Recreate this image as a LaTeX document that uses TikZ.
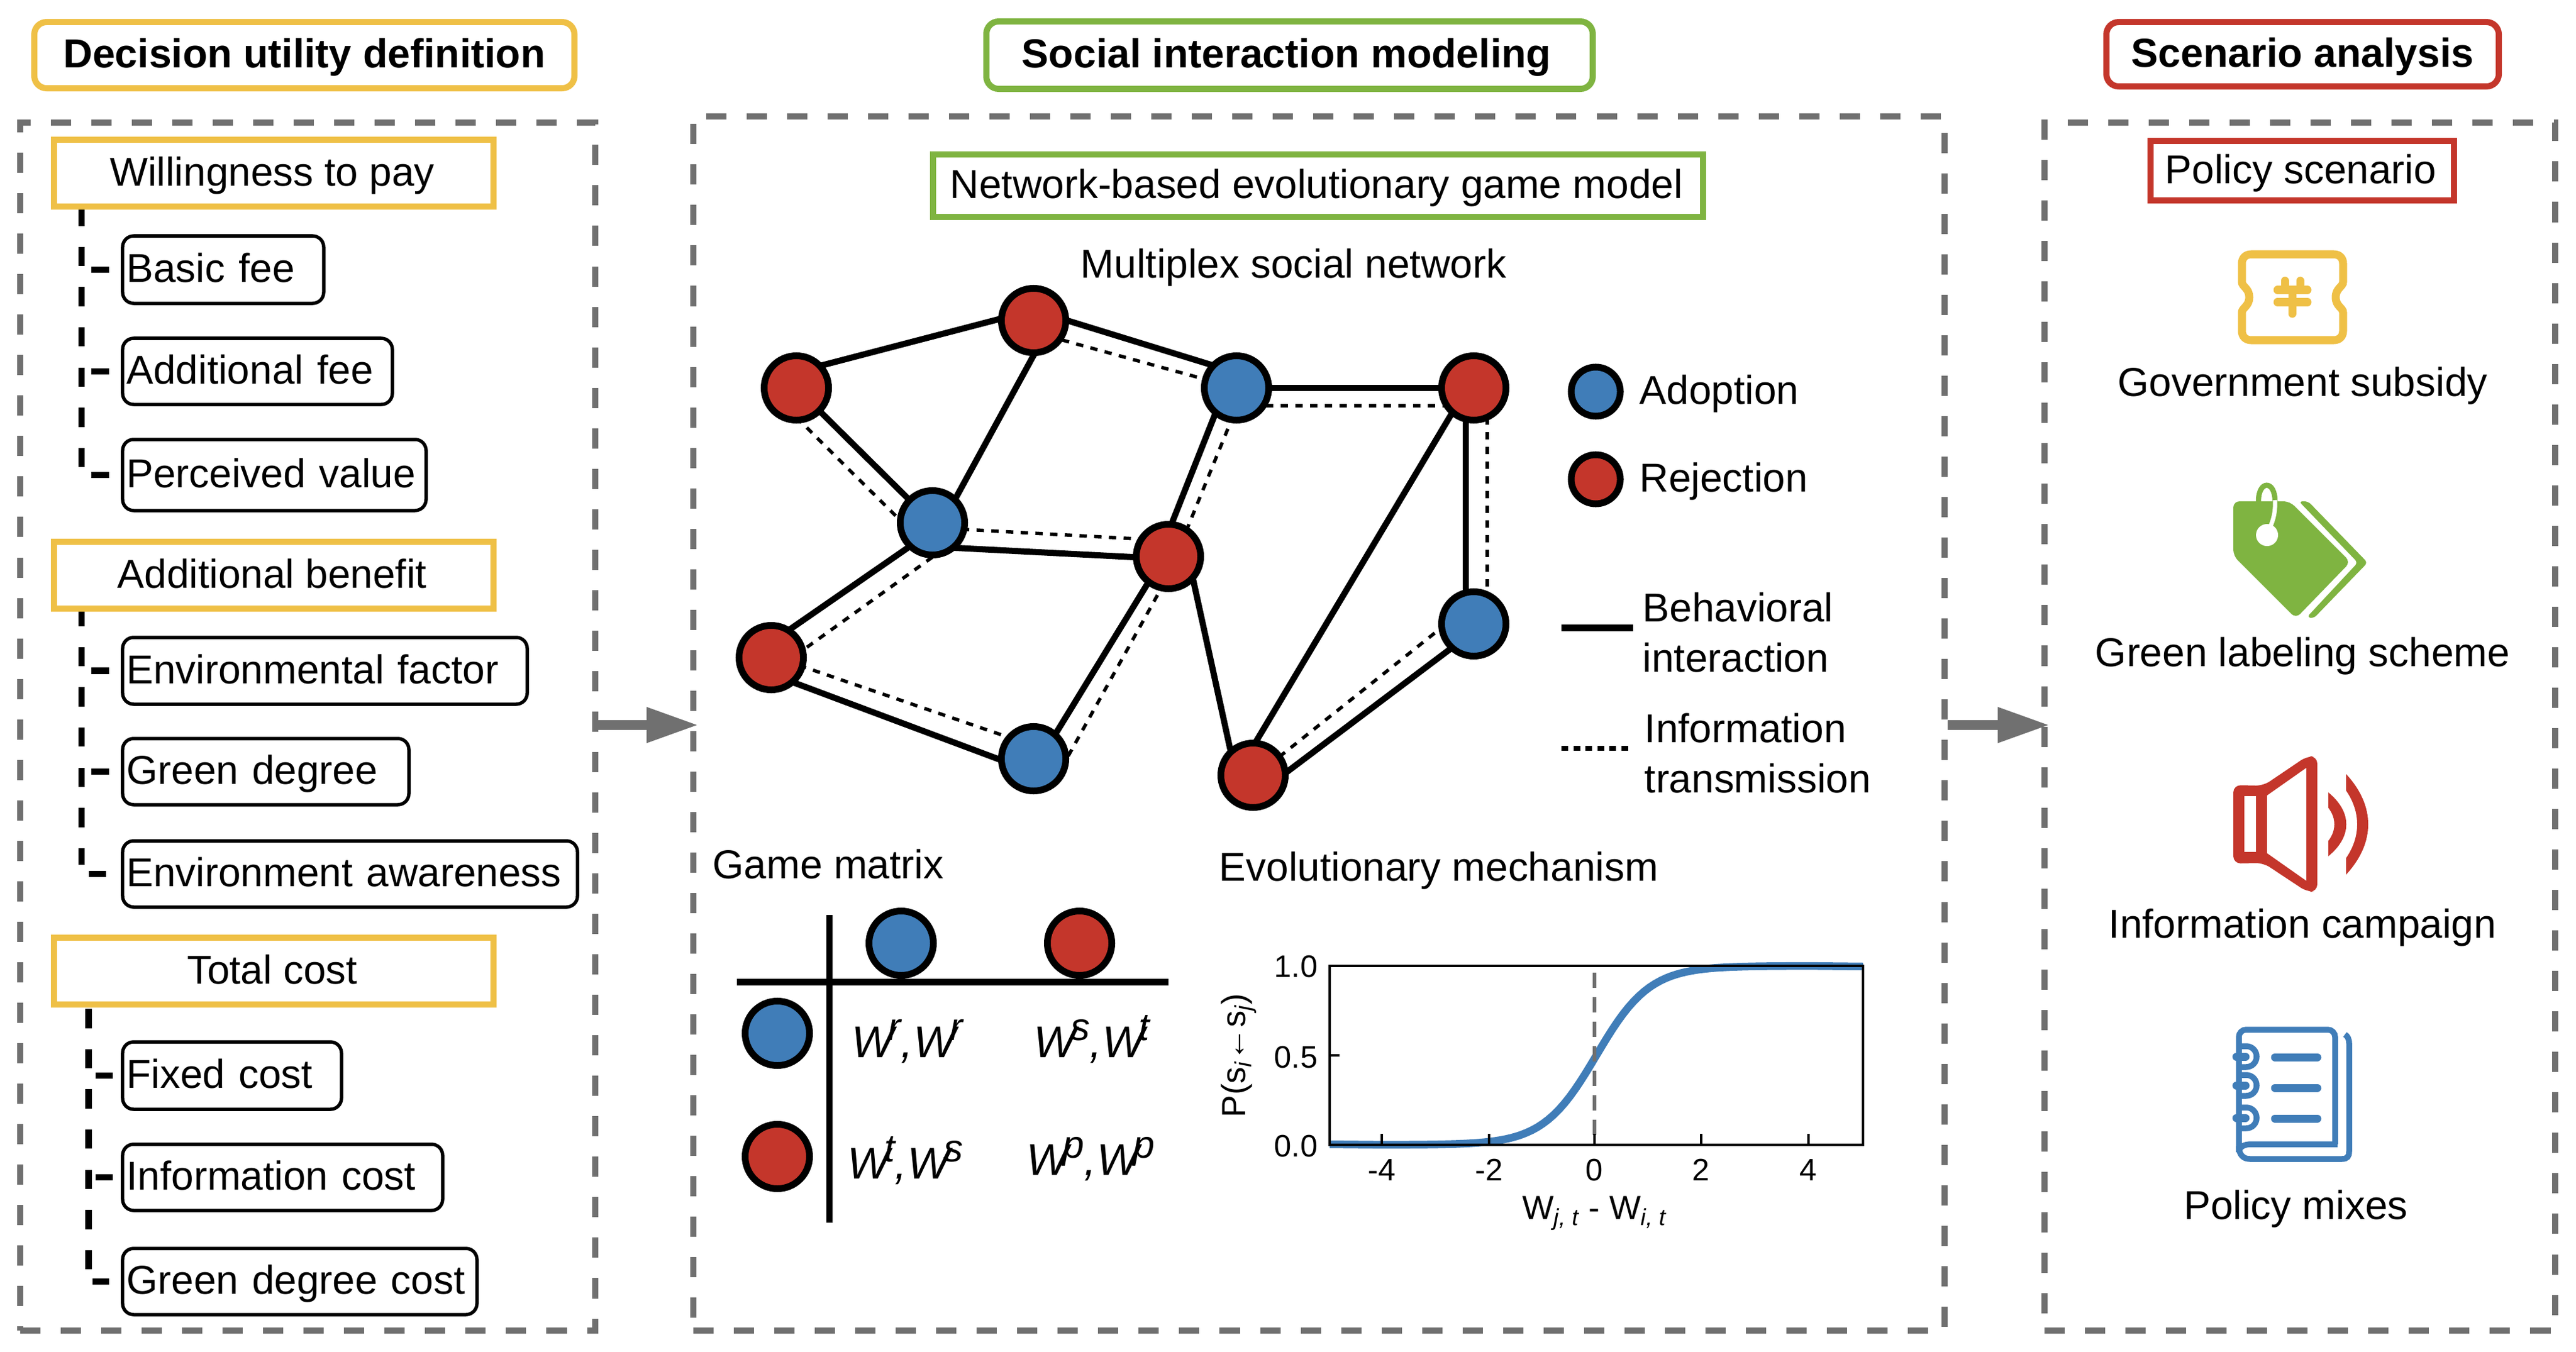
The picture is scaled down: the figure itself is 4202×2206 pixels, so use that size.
\documentclass[tikz,border=0pt]{standalone}
\usepackage{fontspec}
\setmainfont{Liberation Sans}
\usetikzlibrary{arrows.meta,backgrounds,calc}
\definecolor{cblue}{RGB}{64,125,184}
\definecolor{cred}{RGB}{196,54,43}
\definecolor{cyellow}{RGB}{239,192,70}
\definecolor{cgreen}{RGB}{127,180,65}
\definecolor{cgray}{RGB}{112,112,112}
\newcommand{\boxnode}[7]{%
 \pgfmathsetmacro\bw{(#5-#3)*0.01}\pgfmathsetmacro\bh{(#6-#4)*0.01}%
 \pgfmathsetmacro\bx{(#3+#5)/2}\pgfmathsetmacro\by{(#4+#6)/2}%
 \node[#1,minimum width=\bw cm,minimum height=\bh cm] (#2) at (\bx,\by) {#7};}
\newcommand{\payW}[1]{W\kern-.09cm\raisebox{.28cm}{\fontsize{18}{20}\selectfont #1}}
\newcommand{\bump}[1]{%
 \draw[nbline] (3652,#1-17) -- (3664,#1-17) .. controls (3674,#1-17) and (3681,#1-9) .. (3681,#1) .. controls (3681,#1+9) and (3674,#1+17) .. (3664,#1+17) -- (3652,#1+17);
 \draw[white,line width=.19cm] (3660,#1) -- (3671,#1);
 \draw[cblue,line width=.13cm,line cap=round] (3648,#1) -- (3663,#1);}
\tikzset{
 txt/.style={font=\fontsize{18.7}{22}\selectfont,inner sep=0pt,text height=.475cm,text depth=.06cm},
 titlebox/.style={txt,font=\fontsize{18.8}{22}\selectfont\bfseries,draw=#1,line width=.1cm,rounded corners=.2cm,fill=white},
 headbox/.style={txt,draw=#1,line width=.1cm,fill=white},
 subbox/.style={txt,draw=black,line width=.055cm,rounded corners=.18cm,inner xsep=.065cm,text width=\bw cm-.13cm,align=left},
 panel/.style={draw=cgray,line width=.105cm,dash pattern=on .33cm off .33cm},
 trunk/.style={black,line width=.105cm,dash pattern=on .315cm off .341cm},
 tick/.style={black,line width=.105cm},
 flow/.style={cgray,line width=.16cm,shorten >=-.14cm,-{Triangle[length=.85cm,width=.54cm]}},
 agent/.style={circle,draw=black,line width=.11cm,minimum size=1.05cm,inner sep=0pt,fill=#1},
 legagent/.style={circle,draw=black,line width=.11cm,minimum size=.8cm,inner sep=0pt,fill=#1},
 beh/.style={black,line width=.1cm},
 inf/.style={black,line width=.055cm,dash pattern=on .12cm off .12cm},
 lbl/.style={txt},
 pay/.style={font=\fontsize{20.6}{24}\selectfont\itshape,inner sep=0pt,anchor=base},
 ticklbl/.style={font=\fontsize{14.4}{16}\selectfont,inner sep=0pt},
 nbline/.style={cblue,line width=.095cm},
}
\begin{document}
\begin{tikzpicture}[x=0.01cm,y=-0.01cm]
\useasboundingbox (0,0) rectangle (4202,2206);
% panels
\boxnode{panel}{p1}{33}{200}{971}{2171}{}
\boxnode{panel}{p2}{1131}{190}{3172}{2171}{}
\boxnode{panel}{p3}{3335}{200}{4168}{2171}{}
\coordinate (flowy) at (0,1183);
\draw[flow] (p1.east |- flowy) -- (p2.west |- flowy);
\draw[flow] (p2.east |- flowy) -- (p3.west |- flowy);
% titles
\boxnode{titlebox=cyellow}{t1}{56}{36}{937}{144}{Decision utility definition}
\boxnode{titlebox=cgreen}{t2}{1609}{35}{2598}{145}{Social interaction modeling\kern.1cm}
\boxnode{titlebox=cred}{t3}{3436}{36}{4076}{141}{Scenario analysis}
% left column
\boxnode{headbox=cyellow}{wtp}{88}{228}{805}{337}{Willingness to pay\kern.05cm}
\boxnode{headbox=cyellow}{ab}{88}{884}{805}{993}{Additional benefit\kern.05cm}
\boxnode{headbox=cyellow}{tc}{88}{1530}{805}{1639}{Total cost\kern.05cm}
\boxnode{subbox}{bf}{200}{385}{528}{495}{Basic fee}
\boxnode{subbox}{af}{200}{552}{640}{660}{Additional fee}
\boxnode{subbox}{pv}{200}{717}{695}{833}{Perceived value}
\boxnode{subbox}{ef}{200}{1040}{860}{1149}{Environmental factor}
\boxnode{subbox}{gd}{200}{1205}{667}{1313}{Green degree}
\boxnode{subbox}{ea}{200}{1372}{942}{1480}{Environment awareness}
\boxnode{subbox}{fc}{200}{1700}{557}{1810}{Fixed cost}
\boxnode{subbox}{ic}{200}{1867}{722}{1975}{Information cost}
\boxnode{subbox}{gc}{200}{2037}{778}{2145}{Green degree cost}
\coordinate (r1) at (133,337);\coordinate (r1e) at (133,765);
\coordinate (r2) at (133,990);\coordinate (r2e) at (133,1411);
\coordinate (r3) at (144.5,1646);\coordinate (r3e) at (144.5,2075);
\begin{scope}[on background layer]
\draw[trunk] (r1) -- (r1e);\draw[trunk] (r2) -- (r2e);\draw[trunk] (r3) -- (r3e);
\end{scope}
\draw[tick,shorten <=.19cm,shorten >=.16cm] (bf.west) -- (bf.west -| r1);
\draw[tick,shorten <=.19cm,shorten >=.16cm] (af.west) -- (af.west -| r1);
\draw[tick,shorten <=.19cm,shorten >=.16cm] (pv.west) -- (pv.west -| r1);
\draw[tick,shorten <=.19cm,shorten >=.16cm] (ef.west) -- (ef.west -| r2);
\draw[tick,shorten <=.19cm,shorten >=.16cm] (gd.west) -- (gd.west -| r2);
\draw[tick,shorten <=.24cm,shorten >=.12cm] (ea.west) -- (ea.west -| r2);
\draw[tick,shorten <=.13cm,shorten >=.11cm] (fc.west) -- (fc.west -| r3);
\draw[tick,shorten <=.13cm,shorten >=.11cm] (ic.west) -- (ic.west -| r3);
\draw[tick,shorten <=.19cm,shorten >=.06cm] (gc.west) -- (gc.west -| r3);
% middle
\boxnode{headbox=cgreen}{ng}{1522}{252}{2778}{354}{Network-based evolutionary game model\kern.05cm}
\node[lbl] (ms) at (2110,433) {Multiplex social network};
\node[agent=cred] (A) at (1299,633) {};
\node[agent=cred] (B) at (1686,523) {};
\node[agent=cblue] (C) at (2017,633) {};
\node[agent=cred] (D) at (2404,633) {};
\node[agent=cblue] (E) at (1521,853) {};
\node[agent=cred] (F) at (1906,908) {};
\node[agent=cred] (G) at (1258,1073) {};
\node[agent=cblue] (H) at (1686,1238) {};
\node[agent=cred] (I) at (2044,1265) {};
\node[agent=cblue] (J) at (2404,1018) {};
\begin{scope}[on background layer]
\draw[beh] ([shift={(0,-26)}]A.center) -- ([shift={(0,-17)}]B.center);
\draw[beh] ([shift={(31,0)}]B.center) -- ([shift={(16,0)}]E.center);
\draw[beh] ([shift={(0,-17)}]B.center) -- ([shift={(0,-25)}]C.center);
\draw[beh] (A.center) -- (E.center);
\draw[beh] (C.center) -- (D.center);
\draw[beh] ([shift={(-18,0)}]C.center) -- ([shift={(-16,0)}]F.center);
\draw[beh] ([shift={(0,39)}]E.center) -- ([shift={(0,4)}]F.center);
\draw[beh] ([shift={(0,13)}]E.center) -- ([shift={(0,-25)}]G.center);
\draw[beh] ([shift={(0,27)}]G.center) -- ([shift={(0,22)}]H.center);
\draw[beh] ([shift={(-7,0)}]F.center) -- ([shift={(11,0)}]H.center);
\draw[beh] ([shift={(32,0)}]F.center) -- ([shift={(-28,0)}]I.center);
\draw[beh] ([shift={(-11,0)}]D.center) -- ([shift={(-28,0)}]I.center);
\draw[beh] ([shift={(-13,0)}]D.center) -- ([shift={(-13,0)}]J.center);
\draw[beh] ([shift={(16,0)}]J.center) -- ([shift={(48,0)}]I.center);
\draw[inf] ([shift={(0,19)}]B.center) -- (C.center);
\draw[inf] ([shift={(0,29)}]C.center) -- ([shift={(0,29)}]D.center);
\draw[inf] ([shift={(0,48)}]A.center) -- ([shift={(0,48)}]E.center);
\draw[inf] ([shift={(0,8)}]E.center) -- ([shift={(0,-26)}]F.center);
\draw[inf] ([shift={(13,0)}]C.center) -- ([shift={(12,0)}]F.center);
\draw[inf] ([shift={(0,56)}]E.center) -- ([shift={(0,25)}]G.center);
\draw[inf] ([shift={(0,-3)}]G.center) -- ([shift={(0,-21)}]H.center);
\draw[inf] ([shift={(17,0)}]F.center) -- ([shift={(54,0)}]H.center);
\draw[inf] ([shift={(22,0)}]D.center) -- ([shift={(22,0)}]J.center);
\draw[inf] ([shift={(-45,0)}]J.center) -- ([shift={(5,0)}]I.center);
\end{scope}
% legend
\node[legagent=cblue] (la) at (2603,639) {};
\node[legagent=cred] (lr) at (2603,782) {};
\node[lbl,anchor=west] at (2674,639) {Adoption};
\node[lbl,anchor=west] at (2674,782) {Rejection};
\node[lbl,anchor=west] at (2679,994) {Behavioral};
\node[lbl,anchor=west] at (2679,1076) {interaction};
\node[lbl,anchor=west] at (2682,1191) {Information};
\node[lbl,anchor=west] at (2682,1273) {transmission};
\coordinate (lb1) at (2547,1024);\coordinate (lb2) at (2664,1024);
\coordinate (li1) at (2547,1221);\coordinate (li2) at (2664,1221);
\draw[black,line width=.11cm] (lb1) -- (lb2);
\draw[black,line width=.08cm,dash pattern=on .11cm off .085cm] (li1) -- (li2);
% game matrix
\node[lbl,anchor=west] at (1162,1413) {Game matrix};
\node[lbl,anchor=west] at (1988,1417) {Evolutionary mechanism};
\coordinate (v1) at (1353,1493);\coordinate (v2) at (1353,1995);
\coordinate (h1) at (1202,1602);\coordinate (h2) at (1906,1602);
\draw[black,line width=.1cm] (v1) -- (v2);
\draw[black,line width=.11cm] (h1) -- (h2);
\node[agent=cblue] (m1) at (1470,1539) {};
\node[agent=cred] (m2) at (1761,1539) {};
\node[agent=cblue] (m3) at (1268,1686) {};
\node[agent=cred] (m4) at (1268,1887) {};
\node[pay] at (1480,1725) {\payW{r},\payW{r}};
\node[pay] at (1781,1725) {\payW{s},\payW{t}};
\node[pay] at (1477,1923) {\payW{t},\payW{s}};
\node[pay] at (1779,1917) {\payW{p},\payW{p}};
% plot
\draw[cblue,line width=.125cm] (2169,1867) -- plot[domain=-4:4,samples=81] ({2604+87*\x},{1868-292/(1+exp(-2*\x))}) -- (3039,1577);
\draw[cgray,line width=.06cm,dash pattern=on .25cm off .15cm] (2601,1587) -- (2601,1868);
\draw[black,line width=.045cm] (2169,1576) rectangle (3039,1868);
\foreach \tx/\tl in {2254/-4,2429/-2,2601/0,2775/2,2950/4}{
 \draw[black,line width=.035cm] (\tx,1868) -- (\tx,1850);
 \node[ticklbl] at (\tx,1909) {\tl};}
\draw[black,line width=.035cm] (2169,1722) -- (2185,1722);
\node[ticklbl] at (2114,1577) {1.0};
\node[ticklbl] at (2114,1725) {0.5};
\node[ticklbl] at (2114,1870) {0.0};
\node[ticklbl,font=\fontsize{15.5}{18}\selectfont] at (2601,1980) {W\textsubscript{\itshape j, t} - W\textsubscript{\itshape i, t}};
\node[ticklbl,font=\fontsize{15.5}{18}\selectfont,rotate=90] at (2021,1722) {P(s\textsubscript{\itshape i}←s\textsubscript{\itshape j})};
% right column
\boxnode{headbox=cred}{ps}{3508}{230}{4003}{327}{Policy scenario\kern.05cm}
\node[lbl] (g1) at (3756,626) {Government subsidy};
\node[lbl] (g2) at (3756,1067) {Green labeling scheme};
\node[lbl] (g3) at (3756,1510) {Information campaign};
\node[lbl] (g4) at (3745,1969) {Policy mixes};
% ticket icon
\draw[cyellow,line width=.13cm] (3672,415) -- (3807,415) .. controls (3816,415) and (3822,421) .. (3822,430) -- (3822,460) .. controls (3822,468) and (3810,470) .. (3810,485) .. controls (3810,500) and (3822,502) .. (3822,510) -- (3822,540) .. controls (3822,549) and (3816,555) .. (3807,555) -- (3672,555) .. controls (3663,555) and (3657,549) .. (3657,540) -- (3657,510) .. controls (3657,502) and (3669,500) .. (3669,485) .. controls (3669,470) and (3657,468) .. (3657,460) -- (3657,430) .. controls (3657,421) and (3663,415) .. (3672,415) -- cycle;
\draw[cyellow,line width=.13cm,line cap=round] (3715,473) -- (3764,473);
\draw[cyellow,line width=.13cm,line cap=round] (3715,493) -- (3764,493);
\draw[cyellow,line width=.13cm,line cap=round] (3739,473) -- (3739,512);
\draw[cyellow,line width=.13cm,line cap=round] (3727,458) -- (3727,473);
\draw[cyellow,line width=.13cm,line cap=round] (3752,458) -- (3752,473);
% tag icon
\fill[cgreen,rounded corners=.1cm] (3643,818) -- (3735,818) -- (3834,917) -- (3745,1009) -- (3643,907) -- cycle;
\fill[cgreen,rounded corners=.06cm] (3750,818) -- (3765,818) -- (3862,918) -- (3774,1009) -- (3763,1007) -- (3846,918) -- cycle;
\draw[cgreen,line width=.085cm] (3684,818) .. controls (3684,783) and (3711,783) .. (3711,818);
\draw[white,line width=.07cm] (3711,816) .. controls (3712,835) and (3708,850) .. (3702,862);
\fill[white] (3698,873) circle[radius=18];
% speaker icon
\fill[cred,rounded corners=.12cm] (3643,1281) -- (3692,1282) -- (3763,1234) -- (3780,1234) -- (3780,1455) -- (3763,1455) -- (3692,1408) -- (3643,1409) -- cycle;
\fill[white] (3661,1299) rectangle (3680,1390);
\fill[white] (3698,1298) -- (3762,1253) -- (3762,1437) -- (3698,1392) -- cycle;
\fill[cred] (3798,1293) .. controls (3837,1325) and (3837,1365) .. (3798,1397) -- (3798,1372) .. controls (3811,1355) and (3811,1335) .. (3798,1318) -- cycle;
\fill[cred] (3827,1263) .. controls (3875,1315) and (3875,1375) .. (3827,1427) -- (3827,1400) .. controls (3851,1365) and (3851,1325) .. (3827,1290) -- cycle;
% notebook icon
\draw[nbline,rounded corners=.12cm] (3652,1880) -- (3652,1680) -- (3809,1680) -- (3809,1867);
\draw[nbline] (3813,1867) -- (3672,1867) .. controls (3660,1867) and (3652,1872) .. (3652,1880);
\draw[nbline] (3652,1870) .. controls (3652,1885) and (3660,1891) .. (3670,1891) -- (3820,1891) .. controls (3829,1891) and (3832,1887) .. (3832,1878) -- (3832,1703) .. controls (3832,1695) and (3829,1690) .. (3825,1688);
\bump{1724}\bump{1771}\bump{1824}
\foreach \ly in {1725,1775,1825}{\draw[cblue,line width=.13cm,line cap=round] (3711,\ly) -- (3780,\ly);}
\end{tikzpicture}
\end{document}
